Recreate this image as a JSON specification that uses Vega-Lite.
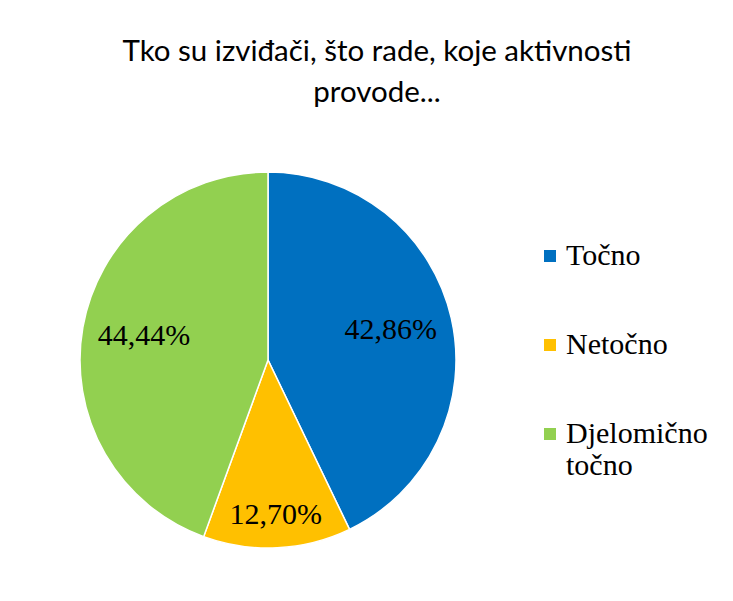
{
  "$schema": "https://vega.github.io/schema/vega-lite/v6.json",
  "autosize": "none",
  "width": 376,
  "height": 376,
  "padding": {"left": 80, "top": 172, "right": 277, "bottom": 53},
  "background": "white",
  "config": {"view": {"stroke": null}},
  "title": {
    "text": ["Tko su izviđači, što rade, koje aktivnosti", "provode..."],
    "font": "Lato",
    "fontSize": 29.5,
    "fontWeight": "normal",
    "color": "black",
    "anchor": "middle",
    "frame": "group",
    "dx": 109,
    "offset": 61,
    "lineHeight": 41
  },
  "data": {
    "values": [
      {"kategorija": "Točno", "postotak": 42.86, "label": "42,86%", "red": 1},
      {"kategorija": "Netočno", "postotak": 12.70, "label": "12,70%", "red": 2},
      {"kategorija": "Djelomično točno", "postotak": 44.44, "label": "44,44%", "red": 3}
    ]
  },
  "encoding": {
    "theta": {"field": "postotak", "type": "quantitative", "stack": true},
    "order": {"field": "red", "type": "quantitative"}
  },
  "layer": [
    {
      "mark": {"type": "arc", "radius": 188, "stroke": "white", "strokeWidth": 1.5},
      "encoding": {
        "color": {
          "field": "kategorija",
          "type": "nominal",
          "scale": {
            "domain": ["Točno", "Netočno", "Djelomično točno"],
            "range": ["#0070C0", "#FFC000", "#92D050"]
          },
          "legend": {
            "title": null,
            "orient": "none",
            "legendX": 455,
            "legendY": 69,
            "symbolType": "square",
            "symbolSize": 144,
            "symbolStrokeWidth": 0,
            "labelFont": "Liberation Serif",
            "labelFontSize": 30,
            "labelColor": "black",
            "labelLimit": 300,
            "labelOffset": 1,
            "rowPadding": 59,
            "labelExpr": "datum.label == 'Djelomično točno' ? ['Djelomično', 'točno'] : datum.label"
          }
        }
      }
    },
    {
      "mark": {"type": "text", "font": "Liberation Serif", "fontSize": 30, "color": "black", "radius": 126, "dy": -2},
      "encoding": {
        "text": {
          "condition": {"test": "datum.kategorija == 'Netočno'", "value": ""},
          "field": "label", "type": "nominal"
        }
      }
    },
    {
      "mark": {"type": "text", "font": "Liberation Serif", "fontSize": 30, "color": "black", "radius": 155},
      "encoding": {
        "text": {
          "condition": {"test": "datum.kategorija != 'Netočno'", "value": ""},
          "field": "label", "type": "nominal"
        }
      }
    }
  ]
}
